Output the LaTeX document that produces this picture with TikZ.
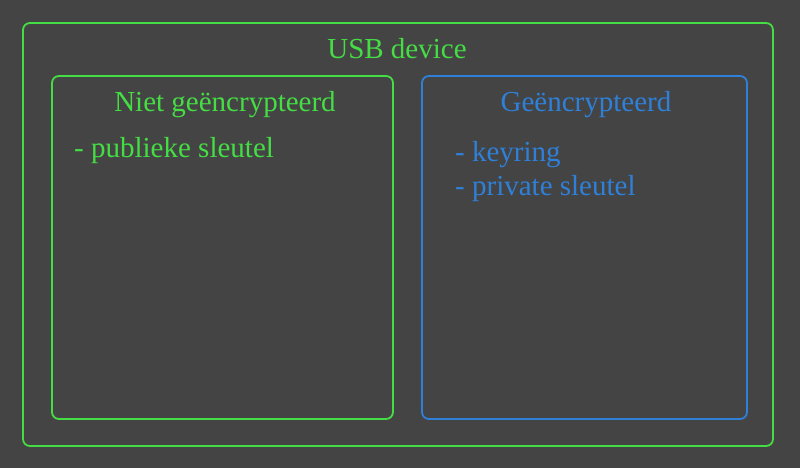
\documentclass[tikz,border=0pt]{standalone}
\usepackage{fontspec}
\setmainfont{Liberation Serif}
\definecolor{bg}{HTML}{444444}
\definecolor{grn}{HTML}{44DD44}
\definecolor{blu}{HTML}{2F80D8}
\begin{document}
\begin{tikzpicture}[x=1pt,y=-1pt,
  box/.style={draw, line width=1.8pt, rounded corners=7pt},
  lbl/.style={font=\fontsize{29}{34}\selectfont, inner sep=0pt}]
\fill[bg] (0,0) rectangle (800,468);
\useasboundingbox (0,0) rectangle (800,468);
\draw[box, grn] (23,23) rectangle (773,446);
\draw[box, grn] (52,76) rectangle (393,419);
\draw[box, blu] (422,76) rectangle (747,419);
\node[lbl, text=grn] (usb) at (397,49) {USB device};
\node[lbl, text=grn] (niet) at (225,105) {Niet geëncrypteerd};
\node[lbl, text=blu] (enc) at (586,105) {Geëncrypteerd};
\node[lbl, text=grn, anchor=west] (pub) at (74,151) {- publieke sleutel};
\node[lbl, text=blu, anchor=west] (key) at (455,155) {- keyring};
\node[lbl, text=blu, anchor=west] (priv) at (455,189) {- private sleutel};
\end{tikzpicture}
\end{document}
